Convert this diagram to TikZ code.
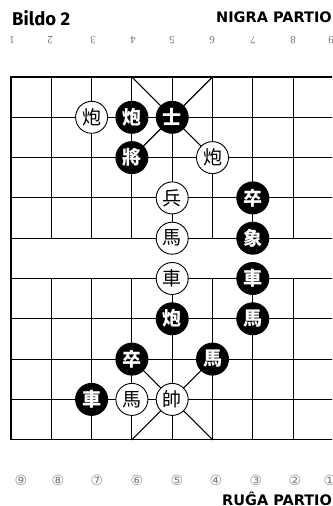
\documentclass[tikz,border=0pt]{standalone}
\usepackage{fontspec}
\setmainfont{Liberation Serif}
\newfontfamily\hdfont{Fira Sans}
\newfontfamily\cjkfont{Noto Sans CJK TC}
\newfontfamily\dvfont{DejaVu Sans}
\tikzset{
  grid/.style={line width=1.1pt, line cap=round},
  border/.style={line width=1.5pt},
  wp/.style={circle, draw=black, line width=0.9pt, fill=white, minimum size=32pt, inner sep=0pt, font=\cjkfont\fontsize{19}{19}\selectfont},
  bp/.style={circle, fill=black, text=white, minimum size=33pt, inner sep=0pt, font=\cjkfont\bfseries\fontsize{19}{19}\selectfont},
  topnum/.style={rotate=180, text=black!55, font=\fontsize{11}{11}\selectfont},
  botnum/.style={text=black!50, font=\dvfont\fontsize{14}{14}\selectfont},
  title/.style={font=\hdfont\bfseries\fontsize{18.5}{18.5}\selectfont, anchor=base west},
  party/.style={font=\dvfont\bfseries\fontsize{14.5}{14.5}\selectfont, anchor=base west},
}
\begin{document}
\begin{tikzpicture}[x=1pt,y=-1pt]
\useasboundingbox (0,0) rectangle (332,506);
\clip (0,0) rectangle (332,506);
\node[title, inner sep=0pt] (t1) at (12,25) {Bildo 2};
\node[party, inner sep=0pt] (t2) at (216,23) {NIGRA PARTIO};
\node[party, inner sep=0pt] (t3) at (222,505) {RUĜA PARTIO};
\foreach \n/\x in {1/12,2/50,3/93,4/133,5/172,6/212,7/253,8/293,9/331}
  \node[topnum] (tn\n) at (\x,40) {\n};
\foreach \n/\c/\x in {9/⑨/21,8/⑧/58,7/⑦/97,6/⑥/137,5/⑤/177,4/④/216,3/③/256,2/②/295,1/①/330}
  \node[botnum] (bn\n) at (\x,480) {\c};
\begin{scope}[shift={(11,77)}, x=40.3pt, y=-40.3pt]
  \foreach \j in {1,...,8} \draw[grid] (0,\j) -- (8,\j);
  \foreach \i in {1,...,7} {
    \draw[grid] (\i,0) -- (\i,4);
    \draw[grid] (\i,5) -- (\i,9);
  }
  \draw[border] (0,0) rectangle (8,9);
  \draw[grid] (3,0) -- (5,2);
  \draw[grid] (5,0) -- (3,2);
  \draw[grid] (3,7) -- (5,9);
  \draw[grid] (5,7) -- (3,9);
  % row 1
  \node[wp] (w1) at (2,1) {炮};
  \node[bp] (b1) at (3,1) {炮};
  \node[bp] (b2) at (4,1) {士};
  % row 2
  \node[bp] (b3) at (3,2) {將};
  \node[wp] (w2) at (5,2) {炮};
  % row 3
  \node[wp] (w3) at (4,3) {兵};
  \node[bp] (b4) at (6,3) {卒};
  % row 4
  \node[wp] (w4) at (4,4) {馬};
  \node[bp] (b5) at (6,4) {象};
  % row 5
  \node[wp] (w5) at (4,5) {車};
  \node[bp] (b6) at (6,5) {車};
  % row 6
  \node[bp] (b7) at (4,6) {炮};
  \node[bp] (b8) at (6,6) {馬};
  % row 7
  \node[bp] (b9) at (3,7) {卒};
  \node[bp] (b10) at (5,7) {馬};
  % row 8
  \node[bp] (b11) at (2,8) {車};
  \node[wp] (w6) at (3,8) {馬};
  \node[wp] (w7) at (4,8) {帥};
\end{scope}
\end{tikzpicture}
\end{document}
